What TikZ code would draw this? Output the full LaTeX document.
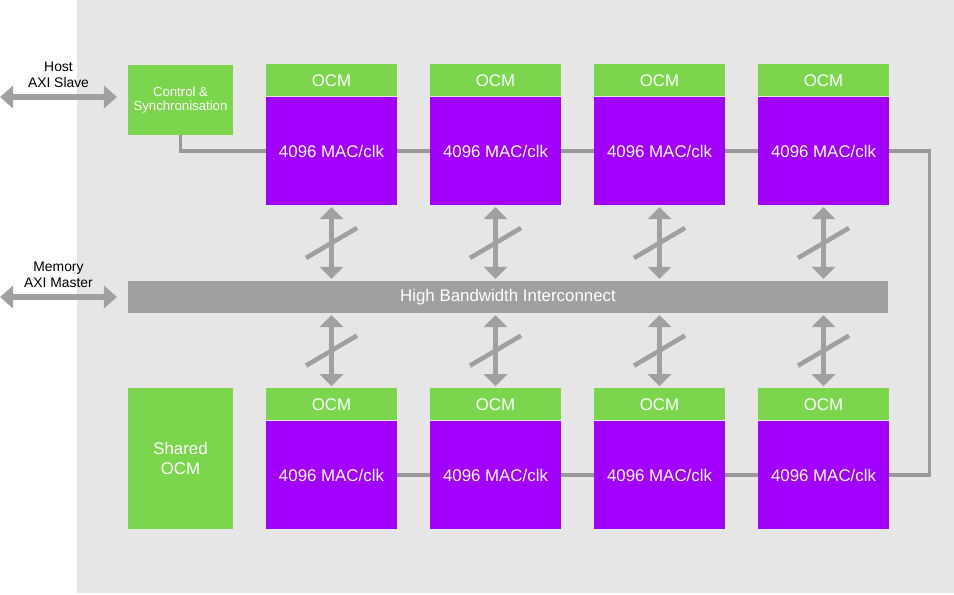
\documentclass[tikz,border=0pt]{standalone}
\usepackage{fontspec}
\setmainfont{Liberation Sans}
\usetikzlibrary{arrows.meta, calc, positioning}

\definecolor{ocmgreen}{HTML}{7BD64E}
\definecolor{macpurple}{HTML}{A100FF}
\definecolor{bggray}{HTML}{E6E6E6}
\definecolor{busgray}{HTML}{A0A0A0}
\definecolor{linegray}{HTML}{999999}

\begin{document}
\begin{tikzpicture}[
    block/.style={inner sep=0pt, text=white, align=center, font=\fontsize{9.6}{11}\selectfont},
    ocm/.style={block, fill=ocmgreen, minimum width=2.62cm, minimum height=0.64cm},
    mac/.style={block, fill=macpurple, minimum width=2.62cm, minimum height=2.16cm},
    side/.style={block, fill=ocmgreen, minimum width=2.1cm},
    link/.style={linegray, line width=2pt},
    bus/.style={busgray, line width=2.3pt, shorten <=1pt, shorten >=1pt,
        {Triangle[width=13pt,length=6.8pt]}-{Triangle[width=13pt,length=6.8pt]}},
    port/.style={busgray, line width=3.6pt,
        {Triangle[width=12.5pt,length=7.4pt]}-{Triangle[width=12.5pt,length=7.4pt]}},
    portlabel/.style={align=center, inner sep=0pt, text=black, font=\fontsize{7.9}{9}\selectfont},
]
    \def\colx{6.63}   % centre of first column
    \def\colsep{3.28} % column pitch
    \def\topy{8.88}
    \def\boty{2.40}
    \useasboundingbox (0,0) rectangle (19.08,11.9);
    \fill[bggray] (1.54,0.04) rectangle (19.08,11.9);
    % Compute columns, top and bottom rows
    \foreach \i in {1,...,4} {
        \node[mac] (macT\i) at ({\colx+(\i-1)*\colsep}, \topy) {4096 MAC/clk};
        \node[ocm, above=0pt of macT\i] (ocmT\i) {OCM};
        \node[mac] (macB\i) at ({\colx+(\i-1)*\colsep}, \boty) {4096 MAC/clk};
        \node[ocm, above=0pt of macB\i] (ocmB\i) {OCM};
    };
    \node[side, minimum height=1.4cm, font=\fontsize{7.5}{8}\selectfont] (ctrl) at (3.61,9.9) {Control \&\\Synchronisation};
    \node[side, minimum height=2.82cm] (shared) at (3.61,2.73) {Shared\\OCM};
    \node[block, fill=busgray, minimum width=15.2cm, minimum height=0.64cm] (hbi) at (10.16,5.96) {High Bandwidth Interconnect};
    % Daisy chain through the compute blocks
    \draw[link] (ctrl.south) |- (macT1.west);
    \foreach \i/\j in {1/2, 2/3, 3/4} {
        \draw[link] (macT\i.east) -- (macT\j.west);
        \draw[link] (macB\i.east) -- (macB\j.west);
    };
    \draw[link] (macT4.east) -- ++(0.8,0) |- (macB4.east);
    % Bus arrows to the interconnect
    \foreach \i in {1,...,4} {
        \draw[bus] (macT\i.south) -- (macT\i.south |- hbi.north);
        \draw[busgray, line width=2.6pt] ($(macT\i.south)!0.5!(macT\i.south |- hbi.north)+(-0.51,-0.3)$) -- ++(1.02,0.6);
        \draw[bus] (ocmB\i.north |- hbi.south) -- (ocmB\i.north);
        \draw[busgray, line width=2.6pt] ($(ocmB\i.north)!0.5!(ocmB\i.north |- hbi.south)+(-0.51,-0.3)$) -- ++(1.02,0.6);
    };
    % External ports
    \coordinate (hostL) at (0,9.96);
    \coordinate (hostR) at (2.34,9.96);
    \coordinate (memL) at (0,5.96);
    \coordinate (memR) at (2.34,5.96);
    \draw[port] (hostL) -- (hostR) node[portlabel, midway, yshift=0.44cm] (hostlbl) {Host\\AXI Slave};
    \draw[port] (memL) -- (memR) node[portlabel, midway, yshift=0.44cm] (memlbl) {Memory\\AXI Master};
\end{tikzpicture}
\end{document}
